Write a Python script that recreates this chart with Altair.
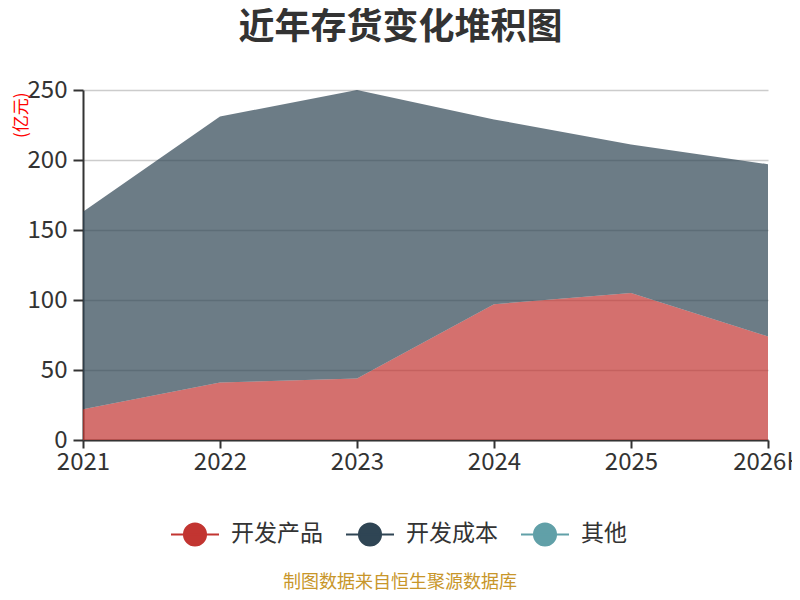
import altair as alt
import pandas as pd

years = ["2021", "2022", "2023", "2024", "2025", "2026H"]
kaifa_chanpin = [22, 41, 44, 97, 105, 74]      # 开发产品
kaifa_chengben = [141, 190, 206, 132, 106, 123]  # 开发成本
series_names = ["开发产品", "开发成本", "其他"]
series_colors = ["#c23531", "#2f4554", "#61a0a8"]
title_text = "近年存货变化堆积图"
unit_text = "(亿元)"
footer_text = "制图数据来自恒生聚源数据库"
y_ticks = [0, 50, 100, 150, 200, 250]

rows = []
for i, y in enumerate(years):
    rows.append({"year": y, "series": "开发产品", "value": kaifa_chanpin[i], "ord": 0})
    rows.append({"year": y, "series": "开发成本", "value": kaifa_chengben[i], "ord": 1})
df = pd.DataFrame(rows)

FONT = "Noto Sans CJK SC"

sym_path = "M-1,0L1,0M0.46,0A0.46,0.46,0,1,1,-0.46,0A0.46,0.46,0,1,1,0.46,0Z"
cscale = alt.Scale(domain=series_names, range=series_colors)
leg = alt.Legend(title=None, orient="none", direction="horizontal",
                 legendX=87, legendY=419,
                 symbolType=sym_path, symbolSize=2304,
                 symbolStrokeWidth=2, symbolOpacity=1,
                 labelFontSize=23, labelFont=FONT, labelColor="#333",
                 labelOffset=11, columnPadding=19)

area = alt.Chart(df).mark_area(opacity=0.7, strokeOpacity=0).encode(
    x=alt.X("year:N", sort=years, scale=alt.Scale(type="point", padding=0),
            axis=alt.Axis(title=None, labelAngle=0, labelFontSize=24, labelColor="#333",
                          labelFont=FONT, tickSize=8, tickColor="#333", tickWidth=2,
                          domainColor="#333", domainWidth=2, grid=False, labelPadding=2)),
    y=alt.Y("value:Q", stack="zero", scale=alt.Scale(domain=[0, 250], nice=False),
            axis=alt.Axis(values=y_ticks, title=unit_text, titleColor="red", titleFontSize=17,
                          titleFont=FONT, titleFontWeight="normal", titleX=-62, titleY=2,
                          titleAlign="right", titleBaseline="middle", titleAngle=270,
                          labelFontSize=24, labelColor="#333", labelFont=FONT,
                          tickSize=10, tickColor="#333", tickWidth=2, labelPadding=6,
                          domainColor="#333", domainWidth=2, grid=True,
                          gridColor="#cccccc", gridWidth=1.5)),
    color=alt.Color("series:N", scale=cscale, legend=leg),
    stroke=alt.Stroke("series:N", scale=cscale, legend=leg),
    order=alt.Order("ord:Q"),
)

footer = alt.Chart(pd.DataFrame({"t": [footer_text]})).mark_text(
    font=FONT, fontSize=18, color="#c8962a", align="center", baseline="middle"
).encode(text="t:N", x=alt.value(317), y=alt.value(493))

chart = alt.layer(area, footer).properties(
    width=685, height=350,
    autosize=alt.AutoSizeParams(type="none"),
    padding={"left": 75, "top": 82, "right": 24, "bottom": 152},
    title=alt.TitleParams(title_text, font=FONT, fontSize=36, fontWeight="bold",
                          color="#333", anchor="middle", frame="group", dx=-25, offset=31),
).configure_view(stroke=None)

chart.save("out.html", embed_options={"renderer": "svg", "actions": False})
